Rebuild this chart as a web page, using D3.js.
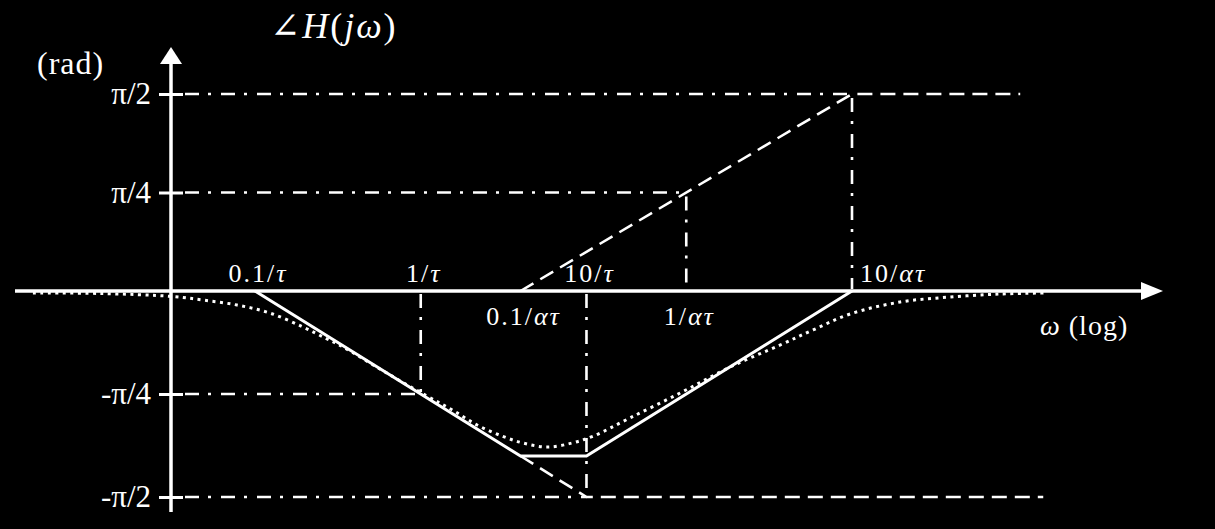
<!DOCTYPE html>
<html><head><meta charset="utf-8">
<script src="https://cdn.jsdelivr.net/npm/d3@7"></script>
<style>body{margin:0;background:#000}svg{display:block}</style>
</head><body>
<script>
const PI = Math.PI;
// x ticks (omega in units of 1/tau, 1/alpha = 40)
const xTickOmega = [0.1, 1, 10, 4, 40, 400];
const xTickLabels = ["0.1/τ", "1/τ", "10/τ", "0.1/ατ", "1/ατ", "10/ατ"];
const xTickAbove = [true, true, true, false, false, true];
// y ticks
const yTickValues = [PI / 2, PI / 4, -PI / 4, -PI / 2];
const yTickLabels = ["π/2", "π/4", "-π/4", "-π/2"];
// straight-line (asymptotic) phase
const asymOmega = [0.1, 4, 10, 400];
const asymPhase = [0, -1.258, -1.258, 0];
// zero asymptote (dashed)
const zeroAsymOmega = [4, 400, 4140];
const zeroAsymPhase = [0, PI / 2, PI / 2];
// pole asymptote continuation (dashed)
const poleAsymOmega = [4, 10, 5700];
const poleAsymPhase = [-1.258, -PI / 2, -PI / 2];
// exact phase (dotted)
const exactOmega = [0.00457, 0.0116, 0.032, 0.0486, 0.0779, 0.123, 0.195, 0.272, 0.34, 0.609, 1.09, 1.55, 2.19, 3.09, 4.14, 5.78, 8.19, 11.0, 18.3, 36.7, 73.6, 147, 233, 390, 781, 1564, 3134, 5859];
const exactPhase = [-0.015, -0.019, -0.042, -0.069, -0.107, -0.168, -0.275, -0.366, -0.427, -0.618, -0.801, -0.907, -1.022, -1.106, -1.159, -1.19, -1.159, -1.106, -0.968, -0.778, -0.58, -0.412, -0.297, -0.175, -0.084, -0.046, -0.023, -0.015];
// dash-dot guide lines
const guideOmega = [400, 40, 1, 10];
const guidePhase = [PI / 2, PI / 4, -PI / 4, -PI / 2];

const W = 1215, H = 529;
const axisX = 171, xAxisStart = 15, xArrowTip = 1163, yArrowTip = 47, yAxisBottom = 512;
const FONT = "'Liberation Serif','DejaVu Serif',serif";

const svg = d3.select("body").append("svg").attr("width", W).attr("height", H)
  .style("background", "#000");

const x = d3.scaleLog().domain([0.1, 400]).range([255, 852]);
const y = d3.scaleLinear().domain([-PI / 2, 0, PI / 2]).range([497, 291, 94]);
const y0 = y(0);

const line = d3.line().x(d => x(d[0])).y(d => y(d[1]));
const zip = (a, b) => a.map((v, i) => [v, b[i]]);

const DASHDOT = "14 9 3 10";
const DASHED = "15 8";

// guides
const g = svg.append("g").attr("stroke", "#fff").attr("stroke-width", 2.6).attr("fill", "none");
guideOmega.forEach((w, i) => {
  g.append("line").attr("x1", axisX + 14).attr("x2", x(w))
    .attr("y1", y(guidePhase[i])).attr("y2", y(guidePhase[i]))
    .attr("stroke-dasharray", DASHDOT);
  const below = y(guidePhase[i]) > y0;
  g.append("line").attr("x1", x(w)).attr("x2", x(w))
    .attr("y1", below ? y0 + 3 : y(guidePhase[i]) + 4)
    .attr("y2", below ? y(guidePhase[i]) : y0 - 2)
    .attr("stroke-dasharray", DASHDOT);
});

// dashed asymptotes
g.append("path").attr("d", line(zip(zeroAsymOmega, zeroAsymPhase))).attr("stroke-dasharray", DASHED);
g.append("path").attr("d", line(zip(poleAsymOmega, poleAsymPhase))).attr("stroke-dasharray", DASHED);

// exact curve dotted
const smooth = d3.line().x(d => x(d[0])).y(d => y(d[1])).curve(d3.curveCatmullRom);
svg.append("path").attr("d", smooth(zip(exactOmega, exactPhase)))
  .attr("fill", "none").attr("stroke", "#fff").attr("stroke-width", 3)
  .attr("stroke-dasharray", "3 4.5");

// solid asymptotic
svg.append("path").attr("d", line(zip(asymOmega, asymPhase)))
  .attr("fill", "none").attr("stroke", "#fff").attr("stroke-width", 3);

// axes
svg.append("line").attr("x1", xAxisStart).attr("x2", xArrowTip - 18).attr("y1", y0).attr("y2", y0)
  .attr("stroke", "#fff").attr("stroke-width", 3.5);
svg.append("path").attr("d", `M${xArrowTip},${y0} L${xArrowTip - 22},${y0 - 9} L${xArrowTip - 22},${y0 + 9} Z`).attr("fill", "#fff");
svg.append("line").attr("x1", axisX).attr("x2", axisX).attr("y1", yAxisBottom).attr("y2", yArrowTip + 14)
  .attr("stroke", "#fff").attr("stroke-width", 3.5);
svg.append("path").attr("d", `M${axisX},${yArrowTip} L${axisX - 11},${yArrowTip + 17} L${axisX + 11},${yArrowTip + 17} Z`).attr("fill", "#fff");

// y axis ticks via d3 axis
const yAxis = d3.axisLeft(y).tickValues(yTickValues).tickSize(12).tickPadding(10)
  .tickFormat((d, i) => yTickLabels[i]);
const ya = svg.append("g").attr("transform", `translate(${axisX},0)`).call(yAxis);
ya.select(".domain").remove();
ya.selectAll(".tick line").attr("stroke", "#fff").attr("stroke-width", 3).attr("x1", 12).attr("x2", -12);
ya.selectAll(".tick text").attr("fill", "#fff").attr("font-family", FONT).attr("font-size", 31)
  .attr("dy", "0.32em").attr("x", -20);

// rich text helper
const ital = new Set(["τ", "α", "ω", "j", "H"]);
function rich(sel, str) {
  let buf = "", cur = null;
  const flush = () => { if (buf) sel.append("tspan").attr("font-style", cur ? "italic" : "normal").text(buf); buf = ""; };
  for (const ch of str) {
    const it = ital.has(ch);
    if (cur !== null && it !== cur) flush();
    cur = it; buf += ch;
  }
  flush();
}

// x tick labels
xTickLabels.forEach((lab, i) => {
  const above = xTickAbove[i];
  const isLast = i === 5;
  const t = svg.append("text").attr("fill", "#fff").attr("font-family", FONT).attr("font-size", 26)
    .attr("letter-spacing", 2)
    .attr("x", isLast ? x(xTickOmega[i]) + 8 : x(xTickOmega[i]) + 3)
    .attr("y", above ? y0 - 9 : y0 + 34)
    .attr("text-anchor", isLast ? "start" : "middle");
  rich(t, lab);
});

// axis titles
const t1 = svg.append("text").attr("fill", "#fff").attr("font-family", FONT).attr("font-size", 36)
  .attr("letter-spacing", 2).attr("x", 270).attr("y", 38);
rich(t1, "∠H(jω)");
svg.append("text").attr("fill", "#fff").attr("font-family", FONT).attr("font-size", 32)
  .attr("letter-spacing", 1).attr("x", 37).attr("y", 74).text("(rad)");
const t3 = svg.append("text").attr("fill", "#fff").attr("font-family", FONT).attr("font-size", 28)
  .attr("letter-spacing", 1).attr("x", 1040).attr("y", 335);
rich(t3, "ω (log)");
</script>
</body></html>
